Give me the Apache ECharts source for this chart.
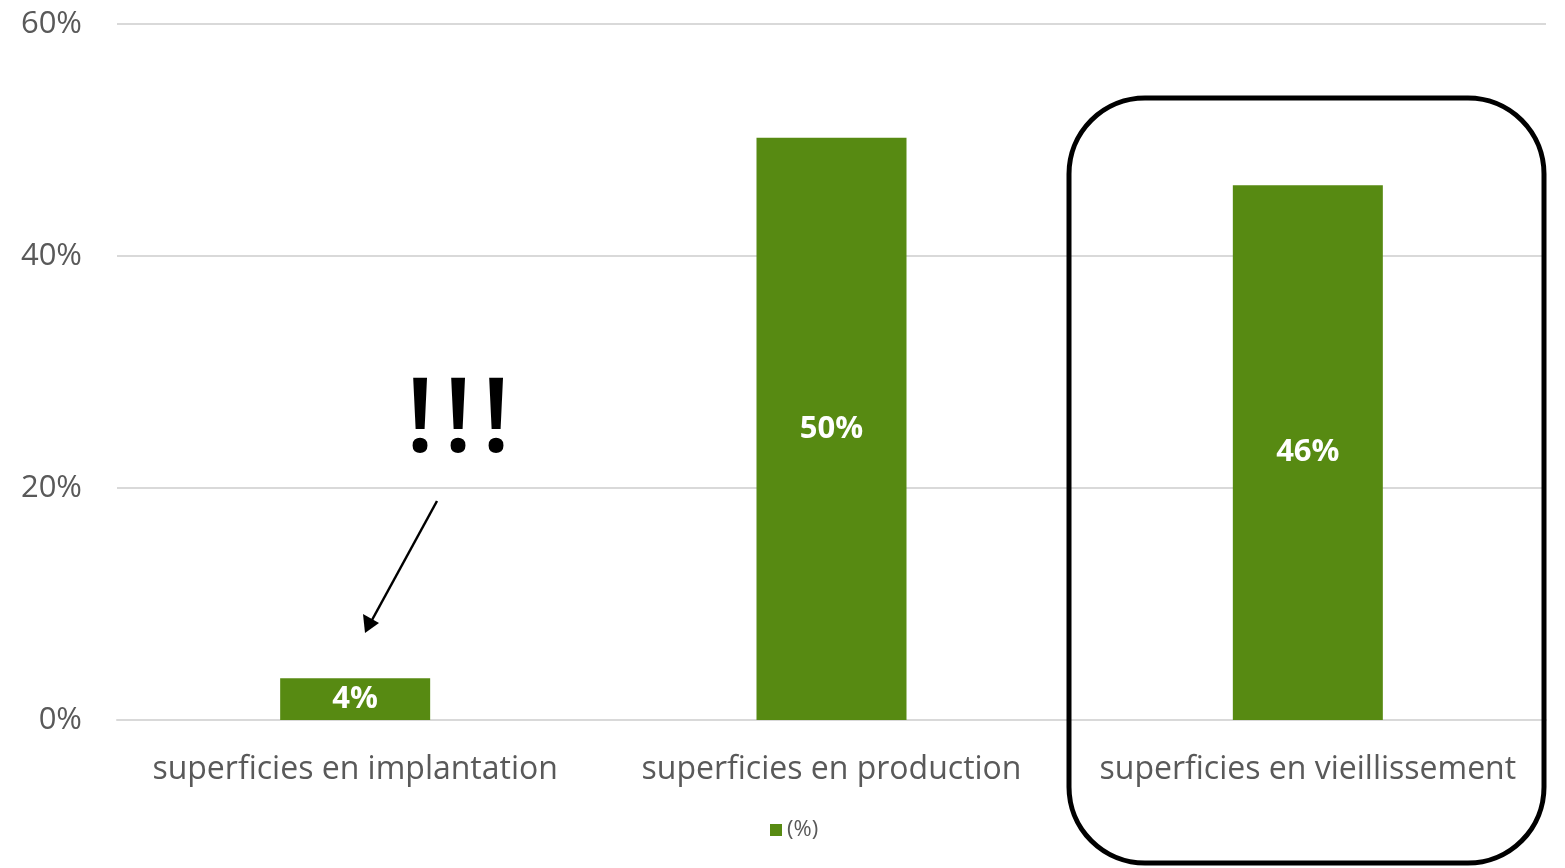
<!DOCTYPE html>
<html>
<head>
<meta charset="utf-8">
<script src="https://cdn.jsdelivr.net/npm/echarts@6/dist/echarts.min.js"></script>
<style>
  html, body { margin: 0; padding: 0; background: #fff; }
  #chart { width: 1565px; height: 868px; }
</style>
</head>
<body>
<div id="chart"></div>
<script>
// data
const categories = ['superficies en implantation', 'superficies en production', 'superficies en vieillissement'];
const shares = [3.6, 50.2, 46.1];
const seriesName = '(%)';
const yTicks = { min: 0, max: 60, interval: 20 };

const font = 'Open Sans';
const green = '#578A12';

const chart = echarts.init(document.getElementById('chart'));

// the three "!" are drawn one by one so their spacing matches
const bang = x => ({
    type: 'text', x: x, y: 422, z: 10,
    style: { text: '!', font: '600 104px "Open Sans"', fill: '#000', align: 'center', verticalAlign: 'middle' }
});

chart.setOption({
    animation: false,
    grid: { left: 117, right: 19, top: 24, bottom: 148, containLabel: false },
    legend: {
        data: [seriesName],
        bottom: 22,
        left: 765,
        itemWidth: 12,
        itemHeight: 12,
        icon: 'rect',
        textStyle: { fontFamily: font, fontSize: 22, color: '#595959' }
    },
    xAxis: {
        type: 'category',
        data: categories,
        axisLine: { lineStyle: { color: '#d9d9d9', width: 2 } },
        axisTick: { show: false },
        axisLabel: { interval: 0, fontFamily: font, fontSize: 32, color: '#595959', margin: 34 }
    },
    yAxis: {
        type: 'value',
        min: yTicks.min,
        max: yTicks.max,
        interval: yTicks.interval,
        axisLine: { show: false },
        axisTick: { show: false },
        splitLine: { lineStyle: { color: '#d9d9d9', width: 2 } },
        axisLabel: {
            fontFamily: font, fontSize: 31, color: '#595959', margin: 35,
            formatter: '{value}%'
        }
    },
    series: [{
        name: seriesName,
        type: 'bar',
        data: shares,
        barWidth: 150,
        itemStyle: { color: green },
        label: {
            show: true,
            position: 'inside',
            color: '#fff',
            fontFamily: font,
            fontWeight: 'bold',
            fontSize: 31,
            formatter: p => Math.round(p.value) + '%'
        }
    }],
    graphic: [
        {
            type: 'rect',
            shape: { x: 1069, y: 98, width: 475, height: 765, r: 76 },
            style: { fill: 'none', stroke: '#000', lineWidth: 5 },
            z: 10
        },
        {
            type: 'line',
            shape: { x1: 437, y1: 501, x2: 372, y2: 620 },
            style: { stroke: '#000', lineWidth: 2.5 },
            z: 10
        },
        {
            type: 'polygon',
            shape: { points: [[365, 633], [363, 614], [379, 623]] },
            style: { fill: '#000' },
            z: 10
        },
        bang(420), bang(458), bang(496)
    ]
});
</script>
</body>
</html>
